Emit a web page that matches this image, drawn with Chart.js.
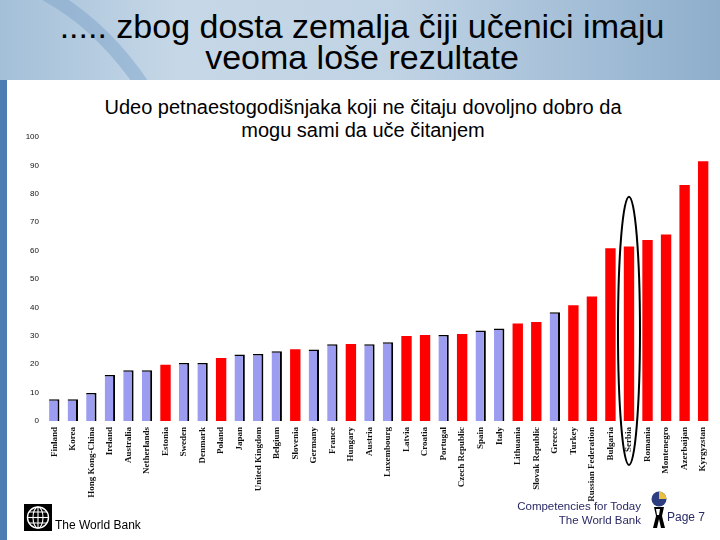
<!DOCTYPE html>
<html lang="sr">
<head>
<meta charset="UTF-8">
<title>Udeo petnaestogodisnjaka</title>
<style>
  body { margin: 0; width: 720px; height: 540px; position: relative; overflow: hidden; background: #fff;
         font-family: Arial, "Liberation Sans", sans-serif; }
  #header { position: absolute; left: 0; top: 0; width: 720px; height: 80px; overflow: hidden;
            background: linear-gradient(to right, #a3bfd8 0%, #c6d8e7 25%, #c0d3e4 55%, #9fbbd5 85%, #8eaecb 100%); }
  #swoosh { position: absolute; left: -330px; top: -40px; width: 520px; height: 700px; border-radius: 50%;
            border: 14px solid rgba(120, 160, 200, 0.45); }
  #title { position: absolute; left: 0; top: 11px; width: 724px; text-align: center; font-size: 34px;
           line-height: 31px; color: #000; }
  #strip { position: absolute; left: 0; top: 80px; width: 7px; height: 460px; background: #4b7db2; }
  #subtitle { position: absolute; left: 0; top: 96px; width: 726px; text-align: center; font-size: 20px;
              line-height: 23px; color: #000; }
  canvas { position: absolute; left: 0; top: 0; }
  #wb { position: absolute; left: 24px; top: 504px; }
  #wbtext { position: absolute; left: 55px; top: 518px; font-size: 12px; color: #000; }
  #comp { position: absolute; right: 79px; top: 499px; text-align: right; font-size: 11.5px; line-height: 14px;
          color: #2a2a66; }
  #atlas { position: absolute; left: 650px; top: 491px; }
  #page { position: absolute; left: 667px; top: 510px; font-size: 12px; color: #2a2a66; }
</style>
</head>
<body>
<div id="header"><div id="swoosh"></div>
  <div id="title">..... zbog dosta zemalja čiji učenici imaju<br>veoma loše rezultate</div>
</div>
<div id="strip"></div>
<div id="subtitle">Udeo petnaestogodišnjaka koji ne čitaju dovoljno dobro da<br>mogu sami da uče čitanjem</div>

<canvas id="myChart" width="720" height="540"></canvas>

<svg id="wb" width="28" height="27" viewBox="0 0 28 27">
  <rect width="28" height="27" fill="#000"/>
  <circle cx="14" cy="13.5" r="10.5" fill="none" stroke="#fff" stroke-width="1.4"/>
  <ellipse cx="14" cy="13.5" rx="5" ry="10.5" fill="none" stroke="#fff" stroke-width="1.1"/>
  <line x1="14" y1="3" x2="14" y2="24" stroke="#fff" stroke-width="1.1"/>
  <line x1="3.5" y1="13.5" x2="24.5" y2="13.5" stroke="#fff" stroke-width="1.1"/>
  <line x1="5.5" y1="8" x2="22.5" y2="8" stroke="#fff" stroke-width="1"/>
  <line x1="5.5" y1="19" x2="22.5" y2="19" stroke="#fff" stroke-width="1"/>
</svg>
<div id="wbtext">The World Bank</div>
<div id="comp">Competencies for Today<br>The World Bank</div>
<svg id="atlas" width="18" height="38" viewBox="0 0 18 38">
  <circle cx="9" cy="8" r="7.5" fill="#2c3e80"/>
  <path d="M9 0.5 A7.5 7.5 0 0 1 16.5 8 L9 8 Z" fill="#e8c040"/>
  <path d="M4 16 L14 16 L12 25 L15 37 L11 37 L9 28 L7 37 L3 37 L6 25 Z" fill="#000"/>
  <path d="M6 18 L10 18 L9 24 L7 24 Z" fill="#fff"/>
</svg>
<div id="page">Page 7</div>

<script src="https://cdn.jsdelivr.net/npm/chart.js@4.4.1/dist/chart.umd.min.js"></script>
<script>
  // countries, sorted as in the original slide
  var countries = [
    'Finland', 'Korea', 'Hong Kong-China', 'Ireland', 'Australia', 'Netherlands', 'Estonia',
    'Sweden', 'Denmark', 'Poland', 'Japan', 'United Kingdom', 'Belgium', 'Slovenia', 'Germany',
    'France', 'Hungary', 'Austria', 'Luxembourg', 'Latvia', 'Croatia', 'Portugal',
    'Czech Republic', 'Spain', 'Italy', 'Lithuania', 'Slovak Republic', 'Greece', 'Turkey',
    'Russian Federation', 'Bulgaria', 'Serbia', 'Romania', 'Montenegro', 'Azerbaijan', 'Kyrgyzstan'
  ];

  // share of students (%)
  var shares = [
    7.7, 7.7, 9.9, 16.2, 17.9, 17.9, 19.8,
    20.4, 20.4, 22.2, 23.4, 23.6, 24.6, 25.3, 25.2,
    27.0, 27.1, 27.0, 27.7, 29.9, 30.3, 30.3,
    30.6, 31.9, 32.6, 34.3, 34.9, 38.3, 40.8,
    43.8, 60.8, 61.4, 63.7, 65.7, 83.1, 91.5
  ];

  // countries highlighted in the slide
  var highlighted = [
    'Estonia', 'Poland', 'Slovenia', 'Hungary', 'Latvia', 'Croatia', 'Czech Republic',
    'Lithuania', 'Slovak Republic', 'Turkey', 'Russian Federation', 'Bulgaria', 'Serbia',
    'Romania', 'Montenegro', 'Azerbaijan', 'Kyrgyzstan'
  ];

  var yTicks = [0, 10, 20, 30, 40, 50, 60, 70, 80, 90, 100];

  // the circled country and the oval's extent in axis units
  var circled = 'Serbia';
  var ovalRange = [-15.5, 79];

  var isRed = countries.map(function (c) { return highlighted.indexOf(c) >= 0; });

  var ovalPlugin = {
    id: 'oval',
    afterDraw: function (chart) {
      var ctx = chart.ctx;
      var x = chart.scales.x.getPixelForValue(countries.indexOf(circled));
      var y1 = chart.scales.y.getPixelForValue(ovalRange[1]);
      var y0 = chart.scales.y.getPixelForValue(ovalRange[0]);
      ctx.save();
      ctx.beginPath();
      ctx.ellipse(x, (y0 + y1) / 2, 11, (y0 - y1) / 2, 0, 0, Math.PI * 2);
      ctx.lineWidth = 2;
      ctx.strokeStyle = '#000';
      ctx.stroke();
      ctx.restore();
    }
  };

  var ctx = document.getElementById('myChart').getContext('2d');
  new Chart(ctx, {
    type: 'bar',
    data: {
      labels: countries,
      datasets: [{
        data: shares,
        backgroundColor: isRed.map(function (r) { return r ? '#ff0000' : '#9c9cf0'; }),
        borderColor: '#000',
        borderWidth: isRed.map(function (r) { return r ? 0 : { top: 1.5, right: 2, left: 0, bottom: 0 }; }),
        borderSkipped: false,
        barPercentage: 0.56,
        categoryPercentage: 1
      }]
    },
    options: {
      responsive: false,
      animation: false,
      events: [],
      layout: { padding: { top: 137, left: 0, right: 4, bottom: 0 } },
      plugins: { legend: { display: false }, tooltip: { enabled: false } },
      scales: {
        x: {
          grid: { display: false, drawTicks: false },
          border: { display: false },
          ticks: {
            autoSkip: false, maxRotation: 90, minRotation: 90, padding: 6,
            color: '#111',
            font: { family: '"Liberation Serif", serif', size: 9, weight: 'bold' }
          },
          afterFit: function (s) { s.height = 119; }
        },
        y: {
          min: 0, max: 100,
          afterBuildTicks: function (s) { s.ticks = yTicks.map(function (v) { return { value: v }; }); },
          grid: { display: false, drawTicks: false },
          border: { display: false },
          ticks: {
            padding: 6, color: '#111',
            font: { family: '"Liberation Sans Narrow", "Liberation Sans", sans-serif', size: 8 }
          },
          afterFit: function (s) { s.width = 45; }
        }
      }
    },
    plugins: [ovalPlugin]
  });
</script>
</body>
</html>
